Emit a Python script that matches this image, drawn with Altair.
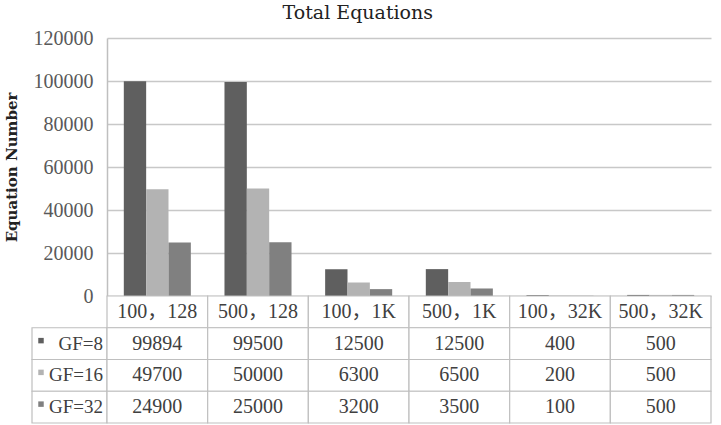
import altair as alt
import pandas as pd

categories = ["100，128", "500，128", "100，1K", "500，1K", "100，32K", "500，32K"]
series = ["GF=8", "GF=16", "GF=32"]
gf8 = [99894, 99500, 12500, 12500, 400, 500]
gf16 = [49700, 50000, 6300, 6500, 200, 500]
gf32 = [24900, 25000, 3200, 3500, 100, 500]
colors = ["#5f5f5f", "#b3b3b3", "#808080"]
y_ticks = [0, 20000, 40000, 60000, 80000, 100000, 120000]

rows = []
for s, vals in zip(series, [gf8, gf16, gf32]):
    for c, v in zip(categories, vals):
        rows.append({"cat": c, "series": s, "value": v})
df = pd.DataFrame(rows)

row_order = ["hdr"] + series
trows = []
for c in categories:
    trows.append({"cat": c, "row": "hdr", "label": c})
for s, vals in zip(series, [gf8, gf16, gf32]):
    for c, v in zip(categories, vals):
        trows.append({"cat": c, "row": s, "label": str(v)})
tdf = pd.DataFrame(trows)
ldf = pd.DataFrame({"row": series, "series": series})

FONT = "'Liberation Serif', 'Times New Roman', 'Noto Sans CJK SC', serif"
W, H, LW, TH = 604, 258, 75, 127
GRID = "#c8c8c8"
LINE = "#bfbfbf"

color_scale = alt.Scale(domain=series, range=colors)

bars = alt.Chart(df).mark_bar().encode(
    x=alt.X("cat:N", sort=categories, axis=None,
            scale=alt.Scale(paddingInner=0.334, paddingOuter=0.167)),
    xOffset=alt.XOffset("series:N", sort=series, scale=alt.Scale(paddingInner=0, paddingOuter=0)),
    y=alt.Y("value:Q", scale=alt.Scale(domain=[0, 120000]),
            axis=alt.Axis(values=y_ticks, title="Equation Number", format="d",
                          titleFont="DejaVu Serif", titleFontSize=15, titleFontWeight="bold",
                          titleColor="#222222", titlePadding=14,
                          labelFont=FONT, labelFontSize=20, labelColor="#595959",
                          labelPadding=14, ticks=False, domainColor=LINE, domainWidth=1.5,
                          gridColor=GRID, gridWidth=1.5)),
    color=alt.Color("series:N", sort=series, scale=color_scale, legend=None),
).properties(width=W, height=H)

spacer = alt.Chart(pd.DataFrame({"a": [0]})).mark_point(opacity=0).encode(
    x=alt.value(0), y=alt.value(0)
).properties(width=LW, height=H)

tbase = alt.Chart(tdf).encode(
    x=alt.X("cat:N", sort=categories, axis=None, scale=alt.Scale(paddingInner=0, paddingOuter=0)),
    y=alt.Y("row:N", axis=None, scale=alt.Scale(domain=row_order, paddingInner=0, paddingOuter=0)),
)
cells = tbase.mark_rect(fill="white", stroke=LINE, strokeWidth=1.2)
texts = tbase.mark_text(font=FONT, fontSize=20, color="#404040").encode(text="label:N")
table = (cells + texts).properties(width=W, height=TH)

lbase = alt.Chart(ldf).encode(
    y=alt.Y("row:N", axis=None, scale=alt.Scale(domain=row_order, paddingInner=0, paddingOuter=0)),
)
lcells = lbase.mark_rect(fill="white", stroke=LINE, strokeWidth=1.2).encode(
    x=alt.value(0), x2=alt.value(LW)
)
lsq = lbase.mark_square(size=30, opacity=1, yOffset=-3).encode(
    x=alt.value(9),
    color=alt.Color("series:N", sort=series, scale=color_scale, legend=None),
)
ltxt = lbase.mark_text(font=FONT, fontSize=19, color="#404040", align="right").encode(
    x=alt.value(LW - 4), text="row:N"
)
legend = (lcells + lsq + ltxt).properties(width=LW, height=TH)

chart = alt.concat(
    spacer, bars, legend, table, columns=2, spacing=0, bounds="flush"
).properties(
    title=alt.TitleParams("Total Equations", font="DejaVu Serif", fontSize=19,
                          fontWeight="normal", color="#222222", anchor="middle", offset=5),
    padding={"left": 4, "top": 4, "right": 9, "bottom": 2},
).configure_view(stroke=None)

chart.save("out.html", embed_options={"renderer": "svg", "actions": False})
